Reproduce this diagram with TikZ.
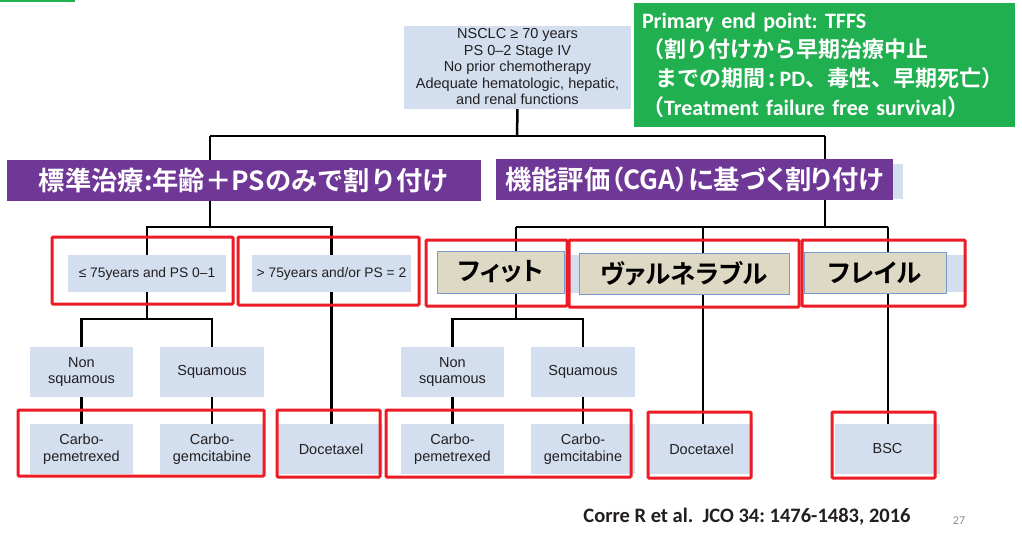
\documentclass[tikz,border=0pt]{standalone}
\usepackage{fontspec}
\setmainfont{Liberation Sans}
\newfontfamily\jp{Noto Sans CJK JP Bold}
\newfontfamily\jpp{Noto Sans CJK JP Bold}[RawFeature=+palt]
\newfontfamily\carl{Carlito}[BoldFont={Carlito Bold}]
\frenchspacing
\definecolor{lb}{RGB}{211,223,239}
\definecolor{pur}{RGB}{112,56,150}
\definecolor{grn}{RGB}{33,176,80}
\definecolor{tanfill}{RGB}{221,217,196}
\definecolor{tanedge}{RGB}{120,155,205}
\definecolor{rd}{RGB}{237,28,36}
\definecolor{ink}{RGB}{35,31,32}
\pgfdeclarelayer{bg}
\pgfsetlayers{bg,main}
\tikzset{
  lbox/.style={fill=lb, inner sep=0pt, align=center, text=ink,
    font=\fontsize{14.5}{16.5}\selectfont},
  bar/.style={fill=pur, inner sep=0pt, text=white,
    font=\jp\fontsize{26.3}{30}\selectfont},
  grade/.style={fill=tanfill, draw=tanedge, line width=0.9pt, inner sep=0pt,
    text=black, font=\jpp\fontsize{25.5}{30}\selectfont},
  conn/.style={draw=black, line width=2.5pt},
  redframe/.style={draw=rd, line width=3pt, rounded corners=1pt},
  strip/.style={fill=lb}
}
\begin{document}
\begin{tikzpicture}[x=1pt,y=-1pt]
\useasboundingbox (0,0) rectangle (1022,541);
\begin{pgfonlayer}{bg}
  \fill[white] (0,0) rectangle (1022,541);
\end{pgfonlayer}
\fill[grn] (0,0) rectangle (75,2);

% eligibility box
\node[lbox, minimum width=227pt, minimum height=83pt] (top) at (517.5,67)
  {NSCLC ≥ 70 years\\PS 0–2 Stage IV\\No prior chemotherapy\\Adequate hematologic, hepatic,\\and renal functions};

% end point panel
\node[fill=grn, minimum width=381pt, minimum height=124pt, text width=365pt,
      align=left, inner sep=0pt, text=white,
      font=\fontsize{22}{29}\selectfont] (ep) at (824.5,65)
  {{\carl\bfseries Primary end point: TFFS}\\
   {\jp （割り付けから早期治療中止}\\
   {\jp\hspace*{0.6em}までの期間\,:\,{\carl\bfseries PD}、毒性、早期死亡）}\\
   {\jp （{\carl\bfseries Treatment failure free survival}）}};

% arm headers
\fill[strip] (893,164) rectangle (903,199);
\node[bar, minimum width=474pt, minimum height=41pt] (std) at (244,180.5)
  {標準治療:年齢＋PSのみで割り付け};
\node[bar, font=\jpp\fontsize{26.3}{30}\selectfont, minimum width=397pt, minimum height=41pt] (cga) at (694.5,179.5)
  {機能評価（CGA）に基づく割り付け};

% standard arm
\node[lbox, font=\fontsize{13.8}{16.5}\selectfont, minimum width=158pt, minimum height=37pt] (a1) at (147,273.5) {≤ 75years and PS 0–1};
\node[lbox, font=\fontsize{13.8}{16.5}\selectfont, minimum width=159pt, minimum height=37pt] (a2) at (331.5,273.5) {> 75years and/or PS = 2};
\node[lbox, minimum width=103pt, minimum height=50pt] (ns1) at (81.5,372) {Non\\squamous};
\node[lbox, minimum width=104pt, minimum height=50pt] (sq1) at (212,372) {Squamous};
\node[lbox, minimum width=103pt, minimum height=50pt] (cp1) at (81.5,449) {Carbo-\\pemetrexed};
\node[lbox, minimum width=104pt, minimum height=50pt] (cg1) at (212,449) {Carbo-\\gemcitabine};
\node[lbox, minimum width=104pt, minimum height=50pt] (doc1) at (331,449) {Docetaxel};

% CGA arm
\fill[strip] (564,255) rectangle (579,293);
\fill[strip] (946,255) rectangle (967,292);
\node[grade, minimum width=127pt, minimum height=42pt] (fit) at (500.5,272) {フィット};
\node[grade, minimum width=210pt, minimum height=41pt] (vul) at (684,273.5) {ヴァルネラブル};
\node[grade, minimum width=142pt, minimum height=41pt] (frail) at (875,272.5) {フレイル};
\node[lbox, minimum width=103pt, minimum height=50pt] (ns2) at (452.5,372) {Non\\squamous};
\node[lbox, minimum width=104pt, minimum height=50pt] (sq2) at (583,372) {Squamous};
\node[lbox, minimum width=103pt, minimum height=50pt] (cp2) at (452.5,449) {Carbo-\\pemetrexed};
\node[lbox, minimum width=104pt, minimum height=50pt] (cg2) at (583,449) {Carbo-\\gemcitabine};
\node[lbox, minimum width=103pt, minimum height=50pt] (doc2) at (701.5,449) {Docetaxel};
\node[lbox, minimum width=105pt, minimum height=50pt] (bsc) at (887.5,449) {BSC};

% junction points
\coordinate (t0) at (517,136);
\coordinate (t1) at (210,136);
\coordinate (t2) at (825,136);
\coordinate (u1) at (210,227);
\coordinate (v1) at (147,319);
\coordinate (u2) at (825,227);
\coordinate (f0) at (516,227);
\coordinate (g0) at (703,227);
\coordinate (h0) at (888,227);
\coordinate (v2) at (516,319);

\begin{pgfonlayer}{bg}
  \draw[conn] (top.south) -- (t0);
  \draw[conn] (t1) -- (t2);
  \draw[conn] (t1) -- (t1 |- std.north);
  \draw[conn] (t2) -- (t2 |- cga.north);
  % standard arm
  \draw[conn] (u1 |- std.south) -- (u1);
  \draw[conn] (a1.center) |- (u1) -| (a2.center);
  \draw[conn] (a1.center) -- (v1);
  \draw[conn] (ns1.center) |- (v1) -| (sq1.center);
  \draw[conn] (ns1.center) -- (cp1.center);
  \draw[conn] (sq1.center) -- (cg1.center);
  \draw[conn] (a2.center) -- (a2.center |- doc1.north);
  % CGA arm
  \draw[conn] (u2 |- cga.south) -- (u2);
  \draw[conn] (f0) -- (h0);
  \draw[conn] (f0) -- (v2);
  \draw[conn] (ns2.center) |- (v2) -| (sq2.center);
  \draw[conn] (ns2.center) -- (cp2.center);
  \draw[conn] (sq2.center) -- (cg2.center);
  \draw[conn] (g0) -- (g0 |- doc2.north);
  \draw[conn] (h0) -- (h0 |- bsc.north);
\end{pgfonlayer}

% highlighted groups
\draw[redframe] (52,237) rectangle (233,304);
\draw[redframe] (238,237) rectangle (419,305);
\draw[redframe] (426,240) rectangle (567,306);
\draw[redframe] (569,240) rectangle (799,307);
\draw[redframe] (802,240) rectangle (965,306);
\draw[redframe] (18,410) rectangle (264,476);
\draw[redframe] (277,410) rectangle (380,477);
\draw[redframe] (386,410) rectangle (631,477);
\draw[redframe] (648,412) rectangle (751,478);
\draw[redframe] (832,412) rectangle (935,478);

% reference and page number
\node[text=ink, inner sep=0pt, font=\carl\bfseries\fontsize{20.5}{24}\selectfont] (ref) at (747,517)
  {Corre R et al.\ \ JCO 34: 1476-1483, 2016};
\node[text=black!45, inner sep=0pt, font=\carl\fontsize{12}{14}\selectfont] (pg) at (959,521) {27};
\end{tikzpicture}
\end{document}
